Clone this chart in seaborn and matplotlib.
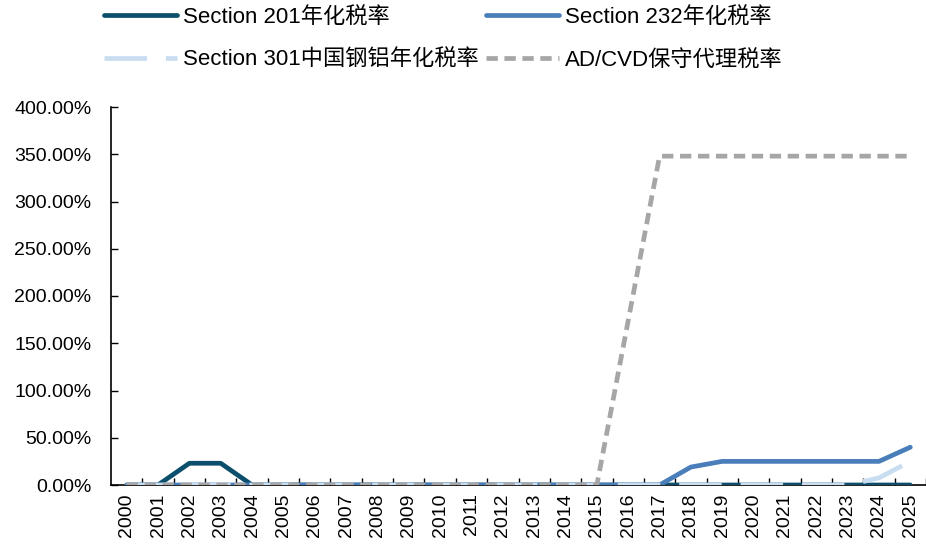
import numpy as np
import pandas as pd
import matplotlib
matplotlib.use("Agg")
import matplotlib.pyplot as plt
import seaborn as sns
from matplotlib.ticker import FuncFormatter, FixedLocator

years = [str(y) for y in range(2000, 2026)]

# Annualized tariff rates (%)
sec201 = [0, 0, 23, 23, 0, 0, 0, 0, 0, 0, 0, 0, 0, 0, 0, 0, 0, 0, 0, 0, 0, 0, 0, 0, 0, 0]
sec232 = [0, 0, 0, 0, 0, 0, 0, 0, 0, 0, 0, 0, 0, 0, 0, 0, 0, 0, 19, 25, 25, 25, 25, 25, 25, 40]
sec301 = [0, 0, 0, 0, 0, 0, 0, 0, 0, 0, 0, 0, 0, 0, 0, 0, 0, 0, 0, 0, 0, 0, 0, 0, 7.5, 25]
adcvd = [0, 0, 0, 0, 0, 0, 0, 0, 0, 0, 0, 0, 0, 0, 0, 0, 174, 348, 348, 348, 348, 348, 348, 348, 348, 348]

labels = ["Section 201年化税率", "Section 232年化税率",
          "Section 301中国钢铝年化税率", "AD/CVD保守代理税率"]
colors = ["#0B4F6C", "#4A7EBB", "#C9DDF0", "#A6A6A6"]

sns.set_theme(style="white")
plt.rcParams["font.family"] = ["Liberation Sans", "Noto Sans CJK SC", "DejaVu Sans"]
plt.rcParams["text.color"] = "black"

x = np.arange(len(years))
df = pd.DataFrame({"x": x, "s201": sec201, "s232": sec232, "s301": sec301, "adcvd": adcvd})

fig = plt.figure(figsize=(9.26, 5.45), dpi=100)
ax = fig.add_axes([111 / 926, 1 - 485 / 545, 815 / 926, (485 - 107) / 545])

lw = 3.4
sns.lineplot(data=df, x="x", y="s201", ax=ax, color=colors[0], lw=lw, label=labels[0], zorder=3)
sns.lineplot(data=df, x="x", y="s232", ax=ax, color=colors[1], lw=lw, label=labels[1], zorder=4)
sns.lineplot(data=df, x="x", y="s301", ax=ax, color=colors[2], lw=lw, label=labels[2], zorder=5)
sns.lineplot(data=df, x="x", y="adcvd", ax=ax, color=colors[3], lw=lw, label=labels[3], zorder=6)
lines = ax.get_lines()
lines[2].set_dashes((9, 4))
lines[3].set_dashes((2.4, 1.4))

ax.set_xlim(-0.5, len(years) - 0.5)
ax.set_ylim(0, 400)
ax.set_yticks(np.arange(0, 401, 50))
ax.yaxis.set_major_formatter(FuncFormatter(lambda v, p: f"{v:.2f}%"))
ax.set_xticks(x)
ax.set_xticklabels(years, rotation=90)
ax.xaxis.set_minor_locator(FixedLocator(np.arange(0.5, len(years), 1.0)))
ax.tick_params(axis="x", which="major", length=0, labelsize=14, pad=6, colors="black")
ax.tick_params(axis="x", which="minor", direction="in", length=5, width=1, color="black", bottom=True)
ax.tick_params(axis="y", which="major", direction="in", length=5, width=1, color="black",
               labelsize=14, pad=14, left=True, colors="black")
ax.set_xlabel("")
ax.set_ylabel("")

for s in ["top", "right"]:
    ax.spines[s].set_visible(False)
for s in ["left", "bottom"]:
    ax.spines[s].set_color("black")
    ax.spines[s].set_linewidth(1.2)
ax.grid(False)

# Legend laid out row by row: (201, 232) on top, (301, AD/CVD) below
handles, labs = ax.get_legend_handles_labels()
order = [0, 2, 1, 3]
leg = ax.legend([handles[i] for i in order], [labs[i] for i in order], ncol=2,
                loc="upper left", bbox_to_anchor=(93 / 926, 1.008),
                bbox_transform=fig.transFigure, frameon=False, fontsize=16,
                handlelength=3.3, handletextpad=0.27, columnspacing=0.3, labelspacing=1.0,
                borderaxespad=0.1)
for t in leg.get_texts():
    t.set_color("black")

fig.savefig("out.png", dpi=100)
